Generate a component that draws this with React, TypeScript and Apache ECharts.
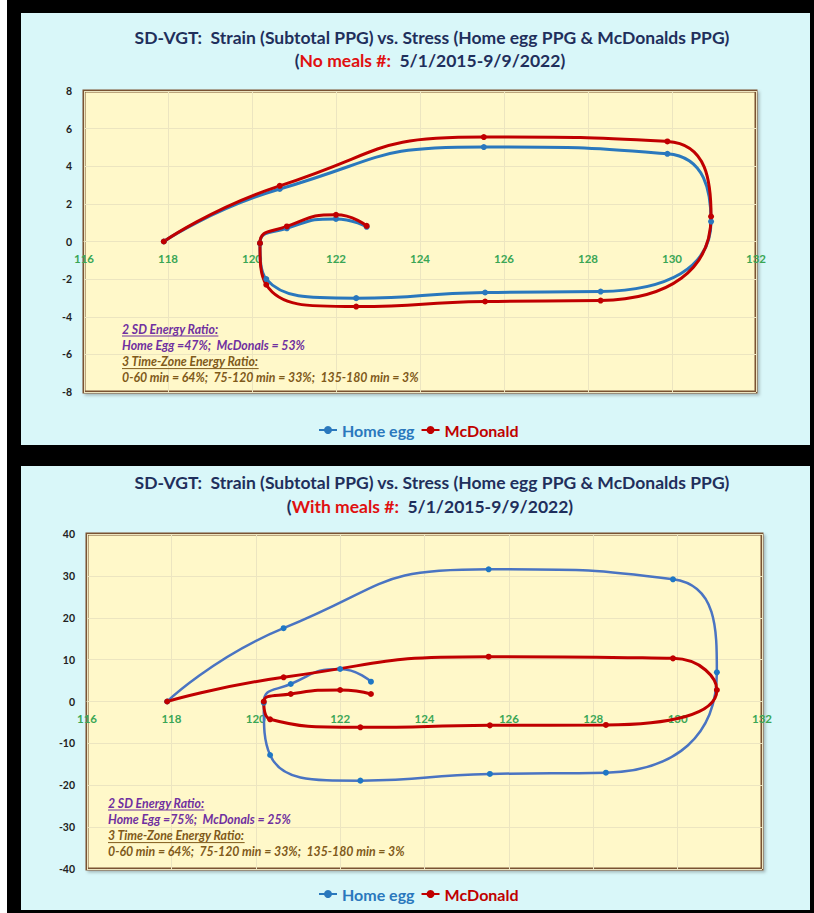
import React, { useEffect, useRef } from 'react';
import * as echarts from 'echarts';

// Strain (Subtotal PPG), shared by both panels, 13 time points (0..180 min)
const strainX = [117.9, 120.66, 125.52, 129.89, 130.93, 128.3, 125.55, 122.48, 120.34, 120.19, 120.83, 122.0, 122.73];
// Panel 1: No meals
const noMealHomeEgg = [0, 2.79, 5.02, 4.66, 1.06, -2.66, -2.71, -3.01, -2.0, -0.1, 0.7, 1.2, 0.78];
const noMealMcDonald = [0, 2.96, 5.55, 5.32, 1.33, -3.14, -3.19, -3.46, -2.3, -0.09, 0.8, 1.42, 0.83];
// Panel 2: With meals
const mealHomeEgg = [0, 17.5, 31.57, 29.18, 6.97, -17.0, -17.3, -18.9, -12.78, -0.3, 4.18, 7.76, 4.73];
const mealMcDonald = [0, 5.78, 10.7, 10.3, 2.75, -5.6, -5.7, -6.17, -4.25, 0, 1.79, 2.75, 1.79];

const seriesNames = ['Home egg', 'McDonald'];
const titleLine1 = 'SD-VGT:  Strain (Subtotal PPG) vs. Stress (Home egg PPG & McDonalds PPG)';
const panelTags = ['No meals #:', 'With meals #:'];
const dateRange = '  5/1/2015-9/9/2022)';
const energyTexts = [
  ['2 SD Energy Ratio:', 'Home Egg =47%;  McDonals = 53%', '3 Time-Zone Energy Ratio:', '0-60 min = 64%;  75-120 min = 33%;  135-180 min = 3%'],
  ['2 SD Energy Ratio:', 'Home Egg =75%;  McDonals = 25%', '3 Time-Zone Energy Ratio:', '0-60 min = 64%;  75-120 min = 33%;  135-180 min = 3%'],
];
const xRange = { min: 116, max: 132, interval: 2 };
const yRanges = [
  { min: -8, max: 8, interval: 2 },
  { min: -40, max: 40, interval: 10 },
];

const NAVY = '#1f2f5c';
const RED = '#c00000';
const BLUE = '#2a78bd';
const BLUE2 = '#4a74c2';
const PURPLE = '#7030a0';
const BROWN = '#7f5a1a';
const FONT = 'Lato, "Open Sans", sans-serif';

function measure(text: string, font: string): number {
  const c = document.createElement('canvas').getContext('2d');
  if (!c) return text.length * 6;
  c.font = font;
  return c.measureText(text).width;
}

export default function App() {
  const ref = useRef<HTMLDivElement>(null);
  useEffect(() => {
    document.body.style.margin = '0';
    if (!ref.current) return;
    const chart = echarts.init(ref.current, undefined, { renderer: 'svg' });

    const grids = [
      { left: 84, top: 91, width: 672, height: 301 },
      { left: 87, top: 534, width: 675, height: 335 },
    ];
    const panels = [
      { x: 21, y: 13, w: 789, h: 432, t1: 37, t2: 60, legendTop: 417, annX: 122, annY: 329 },
      { x: 21, y: 466, w: 789, h: 444, t1: 482, t2: 506, legendTop: 881, annX: 108, annY: 803 },
    ];

    const graphic: any[] = [
      { type: 'rect', shape: { x: 0, y: 0, width: 7, height: 913 }, style: { fill: '#ffffff' }, silent: true, z: -10 },
    ];
    panels.forEach((p, i) => {
      graphic.push({ type: 'rect', shape: { x: p.x, y: p.y, width: p.w, height: p.h }, style: { fill: '#d9f7f9' }, silent: true, z: -10 });
      graphic.push({
        type: 'text', x: 432, y: p.t1, silent: true,
        style: { text: titleLine1, font: `bold 17.5px ${FONT}`, fill: NAVY, align: 'center', verticalAlign: 'middle' },
      });
      graphic.push({
        type: 'text', x: 430, y: p.t2, silent: true,
        style: {
          text: `{a|(}{r|${panelTags[i]}}{a|${dateRange}}`,
          font: `bold 17.5px ${FONT}`, fill: NAVY, align: 'center', verticalAlign: 'middle',
          rich: {
            a: { fill: NAVY, fontSize: 17.5, fontWeight: 'bold', fontFamily: FONT },
            r: { fill: '#e01010', fontSize: 17.5, fontWeight: 'bold', fontFamily: FONT },
          },
        },
      });
      const lines = energyTexts[i];
      const annFont = `italic bold 12.3px ${FONT}`;
      lines.forEach((t, j) => {
        const col = j < 2 ? PURPLE : BROWN;
        const y = p.annY + j * 16.3;
        graphic.push({
          type: 'text', x: p.annX, y, silent: true, z: 10,
          style: { text: t, font: annFont, fill: col, align: 'left', verticalAlign: 'middle' },
        });
        if (j === 0 || j === 2) {
          const w = measure(t, annFont);
          graphic.push({
            type: 'line', silent: true, z: 10,
            shape: { x1: p.annX, y1: y + 7, x2: p.annX + w, y2: y + 7 },
            style: { stroke: col, lineWidth: 1 },
          });
        }
      });
    });

    const splitColor = '#ece5c0';
    // place the x axis where y = 0 (fraction of grid height above the bottom edge)
    const xAxis = grids.map((g, i) => ({
      gridIndex: i, type: 'value', ...xRange,
      offset: -g.height * (0 - yRanges[i].min) / (yRanges[i].max - yRanges[i].min),
      axisLine: { show: true, onZero: false, lineStyle: { color: splitColor, width: 1 } },
      axisTick: { show: false },
      axisLabel: { color: '#3aa655', fontWeight: 'bold', fontSize: 11.5, fontFamily: FONT, margin: 11 },
      splitLine: { show: true, lineStyle: { color: splitColor, width: 1 } },
    }));
    const yAxis = grids.map((_, i) => ({
      gridIndex: i, type: 'value', ...yRanges[i],
      axisLine: { show: false, onZero: false },
      axisTick: { show: false },
      axisLabel: { color: '#222', fontWeight: 'bold', fontSize: 10.5, fontFamily: FONT, margin: 12 },
      splitLine: { show: true, lineStyle: { color: splitColor, width: 1 } },
    }));

    const mk = (name: string, gi: number, ys: number[], lineColor: string, dotColor: string, width: number) => ({
      type: 'line', name, xAxisIndex: gi, yAxisIndex: gi,
      data: strainX.map((x, k) => [x, ys[k]]),
      smooth: 0.55, symbol: 'circle', symbolSize: 6, showSymbol: true,
      lineStyle: { color: lineColor, width },
      itemStyle: { color: dotColor },
      emphasis: { disabled: true },
    });

    const legend = panels.map((p) => ({
      left: 313, top: p.legendTop, itemWidth: 18, itemHeight: 10, itemGap: 6,
      data: [
        { name: seriesNames[0], textStyle: { color: BLUE } },
        { name: seriesNames[1], textStyle: { color: RED } },
      ],
      textStyle: { fontFamily: FONT, fontWeight: 'bold', fontSize: 16 },
    }));

    chart.setOption({
      animation: false,
      backgroundColor: '#000000',
      grid: grids.map((g) => ({
        ...g, show: true, backgroundColor: '#fff8c9', borderColor: '#7a5230', borderWidth: 3,
        shadowColor: 'rgba(0,0,0,0.25)', shadowBlur: 3, shadowOffsetX: 2, shadowOffsetY: 2,
      })),
      xAxis, yAxis, legend,
      graphic,
      series: [
        mk(seriesNames[0], 0, noMealHomeEgg, BLUE, BLUE, 3),
        mk(seriesNames[1], 0, noMealMcDonald, RED, RED, 3),
        mk(seriesNames[0], 1, mealHomeEgg, BLUE2, '#1f77c4', 2.5),
        mk(seriesNames[1], 1, mealMcDonald, RED, RED, 3),
      ],
    });
    return () => chart.dispose();
  }, []);
  return <div ref={ref} style={{ width: 814, height: 913 }} />;
}
